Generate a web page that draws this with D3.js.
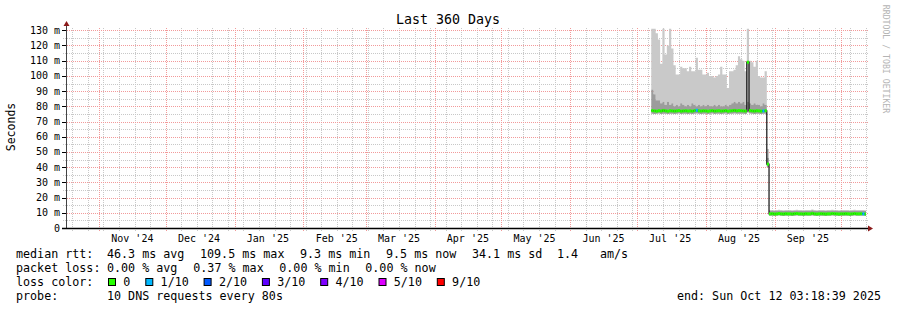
<!DOCTYPE html>
<html>
<head>
<meta charset="utf-8">
<script src="https://cdn.jsdelivr.net/npm/d3@7"></script>
<style>
  body { margin: 0; background: #fff; }
  svg text { font-family: "DejaVu Sans Mono", monospace; white-space: pre; }
</style>
</head>
<body>
<div id="chart"></div>
<script>
// time window of the graph (last 360 days)
var timeStart = new Date(Date.UTC(2024, 9, 17, 3, 18, 39));
var timeEnd = new Date(Date.UTC(2025, 9, 12, 3, 18, 39));
// first day that has data, one value per day after that
var seriesStart = new Date(Date.UTC(2025, 6, 7, 12));

var maxRtt = [131,131,128,124,108,131,114,120,131,118,107,101,101,106,105,105,103,106,103,103,
  112,104,104,101,101,102,100,100,99,100,101,106,101,101,92,103,103,104,107,113,
  111,110,103,131,110,109,106,110,100,99,99,103,
  52,
  11.8,11.9,11.7,11.8,12.0,11.8,11.7,11.9,11.8,11.8,11.7,11.9,12.0,11.8,11.8,11.7,11.9,11.8,11.8,12.1,
  11.8,11.7,11.8,11.9,11.8,11.7,11.8,11.8,12.0,11.9,11.8,11.7,11.8,11.8,11.9,11.8,11.7,11.8,12.0,11.8,
  11.8,11.9,11.8,11.7];
var upperRtt = [91,88,84,84,82,83,81,83,81,82,80,81,80,82,81,80,81,80,82,81,
  80,81,80,81,80,81,80,80,81,80,81,80,80,81,80,81,82,83,82,83,
  82,83,81,83,82,81,82,81,81,80,82,81,
  46,
  11.3,11.4,11.2,11.3,11.5,11.3,11.2,11.4,11.3,11.3,11.2,11.4,11.5,11.3,11.3,11.2,11.4,11.3,11.3,11.6,
  11.3,11.2,11.3,11.4,11.3,11.2,11.3,11.3,11.5,11.4,11.3,11.2,11.3,11.3,11.4,11.3,11.2,11.3,11.5,11.3,
  11.3,11.4,11.3,11.2];
var medianRtt = [77.2,77.0,76.8,77.1,76.9,77.3,77.0,76.8,77.1,77.0,76.9,77.0,77.2,76.8,77.0,77.1,76.9,77.0,76.8,77.2,
  77.4,77.0,76.9,77.1,77.0,76.8,77.0,77.2,76.9,77.0,77.1,76.9,77.0,77.2,76.8,77.0,77.1,77.3,77.0,77.2,
  77.1,77.0,76.9,109.0,77.2,77.0,76.9,77.1,77.0,76.8,77.0,77.1,
  42,
  9.3,9.4,9.2,9.3,9.5,9.3,9.2,9.4,9.3,9.3,9.2,9.4,9.5,9.3,9.3,9.2,9.4,9.3,9.3,9.6,
  9.3,9.2,9.3,9.4,9.3,9.2,9.3,9.3,9.5,9.4,9.3,9.2,9.3,9.3,9.4,9.3,9.2,9.3,9.5,9.3,
  9.3,9.4,9.3,9.2];
var minRtt = [75.2,75.0,75.1,75.3,75.0,75.2,75.1,75.0,75.2,75.1,75.0,75.1,75.3,75.0,75.1,75.2,75.0,75.1,75.0,75.2,
  75.3,75.1,75.0,75.2,75.1,75.0,75.1,75.3,75.0,75.1,75.2,75.0,75.1,75.3,75.0,75.1,75.2,75.3,75.1,75.2,
  75.2,75.1,75.0,76.0,75.3,75.1,75.0,75.2,75.1,75.0,75.1,75.2,
  40,
  8.0,8.1,7.9,8.0,8.2,8.0,7.9,8.1,8.0,8.0,7.9,8.1,8.2,8.0,8.0,7.9,8.1,8.0,8.0,8.2,
  8.0,7.9,8.0,8.1,8.0,7.9,8.0,8.0,8.2,8.1,8.0,7.9,8.0,8.0,8.1,8.0,7.9,8.0,8.2,8.0,
  8.0,8.1,8.0,7.9];
// packets lost out of 10 per day
var lossTenths = [0,0,0,0,0,0,0,0,0,0,0,0,0,0,0,0,0,0,0,0,
  1,0,0,0,0,0,0,0,0,0,0,0,0,0,0,0,0,0,0,0,
  0,0,0,0,0,0,0,0,0,0,1,0,
  0,
  0,0,0,0,0,0,0,0,0,0,0,0,0,0,0,0,0,0,0,0,
  0,0,0,0,0,0,0,0,0,0,0,0,0,0,0,0,0,0,0,0,
  0,0,1,0];

var yTicks = [0,10,20,30,40,50,60,70,80,90,100,110,120,130];
var xTickLabels = ["Nov '24","Dec '24","Jan '25","Feb '25","Mar '25","Apr '25","May '25",
  "Jun '25","Jul '25","Aug '25","Sep '25"];

var lossSteps = [0,1,2,3,4,5,9];
var lossLabels = ["0","1/10","2/10","3/10","4/10","5/10","9/10"];
var lossColors = ["#26ff00","#00b8ff","#0059ff","#5e00ff","#7e00ff","#dd00ff","#ff0000"];

var rttStats = ["46.3 ms avg","109.5 ms max","9.3 ms min","9.5 ms now","34.1 ms sd","1.4","am/s"];
var lossStats = ["0.00 % avg","0.37 % max","0.00 % min","0.00 % now"];
var probeText = "10 DNS requests every 80s";
var endText = "end: Sun Oct 12 03:18:39 2025";

var width = 897, height = 310;
var plot = { left: 66, right: 866, top: 28, bottom: 228 };
var charW = 7;

var svg = d3.select("#chart").append("svg")
  .attr("width", width).attr("height", height);

var x = d3.scaleUtc().domain([timeStart, timeEnd]).range([plot.left, plot.right]);
var y = d3.scaleLinear().domain([0, 131.5]).range([plot.bottom, plot.top]);

// dotted grid lines built from 1px squares (1 on, 1 off) so every one shows up
function dotsH(row, x0, x1) {
  var p = "";
  for (var c = x0; c < x1; c += 2) p += "M" + c + "," + row + "h1v1h-1z";
  return p;
}
function dotsV(col, y0, y1) {
  var p = "";
  for (var r = y0; r < y1; r += 2) p += "M" + col + "," + r + "h1v1h-1z";
  return p;
}

var grid = svg.append("g").attr("shape-rendering", "crispEdges");
var minorY = d3.range(5, 131, 5).filter(function(v) { return v % 10 !== 0; });
var weeks = d3.utcSunday.range(timeStart, timeEnd);
var months = d3.utcMonth.range(timeStart, timeEnd);

function hLines(vals, color) {
  grid.selectAll(null).data(vals).enter().append("path")
    .attr("d", function(d) { return dotsH(Math.round(y(d)), plot.left - 3, plot.right + 2); })
    .attr("fill", color);
}
function vLines(vals, color) {
  grid.selectAll(null).data(vals).enter().append("path")
    .attr("d", function(d) { return dotsV(Math.round(x(d)), plot.top, plot.bottom + 3); })
    .attr("fill", color);
}
hLines(minorY, "#c8c8c8");
vLines(weeks, "#c8c8c8");
hLines(yTicks.slice(1), "#f29a9a");
vLines(months, "#f29a9a");

// y tick marks
grid.selectAll(null).data(yTicks).enter().append("rect")
  .attr("x", plot.left - 4).attr("width", 4)
  .attr("y", function(d) { return Math.round(y(d)); }).attr("height", 1)
  .attr("fill", "#000");

// data rows, plus one closing point so the last step has width
var rows = medianRtt.map(function(m, i) {
  return { date: d3.utcDay.offset(seriesStart, i), max: maxRtt[i], up: upperRtt[i],
    med: m, min: minRtt[i], loss: lossTenths[i] };
});
var last = rows[rows.length - 1];
rows.push(Object.assign({}, last, { date: d3.utcDay.offset(last.date, 1) }));

svg.append("clipPath").attr("id", "plotclip").append("rect")
  .attr("x", plot.left + 1).attr("y", plot.top - 2)
  .attr("width", plot.right - plot.left - 1).attr("height", plot.bottom - plot.top + 2);

var data = svg.append("g").attr("clip-path", "url(#plotclip)");

var smokeHigh = d3.area().curve(d3.curveStepAfter)
  .x(function(d) { return x(d.date); })
  .y0(function(d) { return y(d.up); })
  .y1(function(d) { return y(d.max); });
var smokeLow = d3.area().curve(d3.curveStepAfter)
  .x(function(d) { return x(d.date); })
  .y0(function(d) { return y(d.min); })
  .y1(function(d) { return y(d.up); });

data.append("path").datum(rows).attr("d", smokeHigh).attr("fill", "#c9c9c9");
data.append("path").datum(rows).attr("d", smokeLow).attr("fill", "#9c9c9c");

var medLine = d3.line().curve(d3.curveStepAfter)
  .x(function(d) { return x(d.date); })
  .y(function(d) { return y(d.med); });
data.append("path").datum(rows).attr("d", medLine)
  .attr("fill", "none").attr("stroke", "#111").attr("stroke-width", 1.2);

function lossColor(l) {
  var c = lossColors[0];
  lossSteps.forEach(function(s, i) { if (l >= s) c = lossColors[i]; });
  return c;
}
var seg = d3.line()
  .x(function(d) { return x(d[0]); })
  .y(function(d) { return y(d[1]); });
data.selectAll(".med").data(rows.slice(0, -1)).enter().append("path")
  .attr("d", function(d) { return seg([[d.date, d.med], [d3.utcDay.offset(d.date, 1), d.med]]); })
  .attr("stroke", function(d) { return lossColor(d.loss); })
  .attr("stroke-width", 3).attr("fill", "none");

// axes
svg.append("line").attr("x1", plot.left + 0.5).attr("x2", plot.left + 0.5)
  .attr("y1", plot.top - 4).attr("y2", plot.bottom)
  .attr("stroke", "#444").attr("stroke-width", 1);
svg.append("line").attr("x1", plot.left - 4).attr("x2", plot.right + 4)
  .attr("y1", plot.bottom + 0.5).attr("y2", plot.bottom + 0.5)
  .attr("stroke", "#000").attr("stroke-width", 1.6);
svg.append("path")
  .attr("d", "M" + (plot.left - 2.5) + "," + (plot.top - 2) + "L" + (plot.left + 0.5) + "," + (plot.top - 7) +
    "L" + (plot.left + 3.5) + "," + (plot.top - 2) + "Z")
  .attr("fill", "#8b1a1a");
svg.append("path")
  .attr("d", "M" + (plot.right + 2) + "," + (plot.bottom - 2.5) + "L" + (plot.right + 7) + "," + (plot.bottom + 0.5) +
    "L" + (plot.right + 2) + "," + (plot.bottom + 3.5) + "Z")
  .attr("fill", "#8b1a1a");

// tick labels, month names centred in the middle of the month
var parseMonth = d3.utcParse("%b '%y");
svg.selectAll(".xlab").data(xTickLabels).enter().append("text")
  .attr("x", function(d) { return x(d3.utcDay.offset(parseMonth(d), 15)); })
  .attr("y", 242)
  .attr("text-anchor", "middle").attr("font-size", "10px").attr("fill", "#000")
  .text(function(d) { return d; });
svg.selectAll(".ylab").data(yTicks).enter().append("text")
  .attr("x", 60).attr("y", function(d) { return y(d) + 3.5; })
  .attr("text-anchor", "end").attr("font-size", "10px").attr("fill", "#000")
  .text(function(d) { return d === 0 ? "0" : d + " m"; });

// titles
svg.append("text").attr("x", 448).attr("y", 24).attr("text-anchor", "middle")
  .attr("font-size", "13.3px").text("Last 360 Days");
svg.append("text").attr("transform", "translate(15,127) rotate(-90)")
  .attr("text-anchor", "middle").attr("font-size", "11.5px").text("Seconds");
svg.append("text").attr("transform", "translate(883,59) rotate(90)")
  .attr("text-anchor", "middle").attr("font-size", "8.2px").attr("fill", "#b4b4b4")
  .text("RRDTOOL / TOBI OETIKER");

// legend
var legend = svg.append("g").attr("font-size", "11.7px").attr("fill", "#000");
var rttX = [107, 200, 300, 386, 472, 557, 600];
var lossX = [107, 193.3, 279.3, 365.3];
legend.append("text").attr("x", 16).attr("y", 258).text("median rtt:");
rttStats.forEach(function(s, i) {
  legend.append("text").attr("x", rttX[i]).attr("y", 258).text(s);
});
legend.append("text").attr("x", 16).attr("y", 272).text("packet loss:");
lossStats.forEach(function(s, i) {
  legend.append("text").attr("x", lossX[i]).attr("y", 272).text(s);
});
legend.append("text").attr("x", 16).attr("y", 286).text("loss color:");
var bx = 108;
lossLabels.forEach(function(l, i) {
  legend.append("rect").attr("x", bx + 0.5).attr("y", 278.5).attr("width", 7).attr("height", 7)
    .attr("fill", lossColors[i]).attr("stroke", "#000").attr("stroke-width", 1);
  legend.append("text").attr("x", bx + 15.3).attr("y", 286).text(l);
  bx = bx + 15.3 + l.length * charW + 15;
});
legend.append("text").attr("x", 16).attr("y", 300).text("probe:");
legend.append("text").attr("x", 107).attr("y", 300).text(probeText);
legend.append("text").attr("x", 881).attr("y", 300).attr("text-anchor", "end").text(endText);
</script>
</body>
</html>
